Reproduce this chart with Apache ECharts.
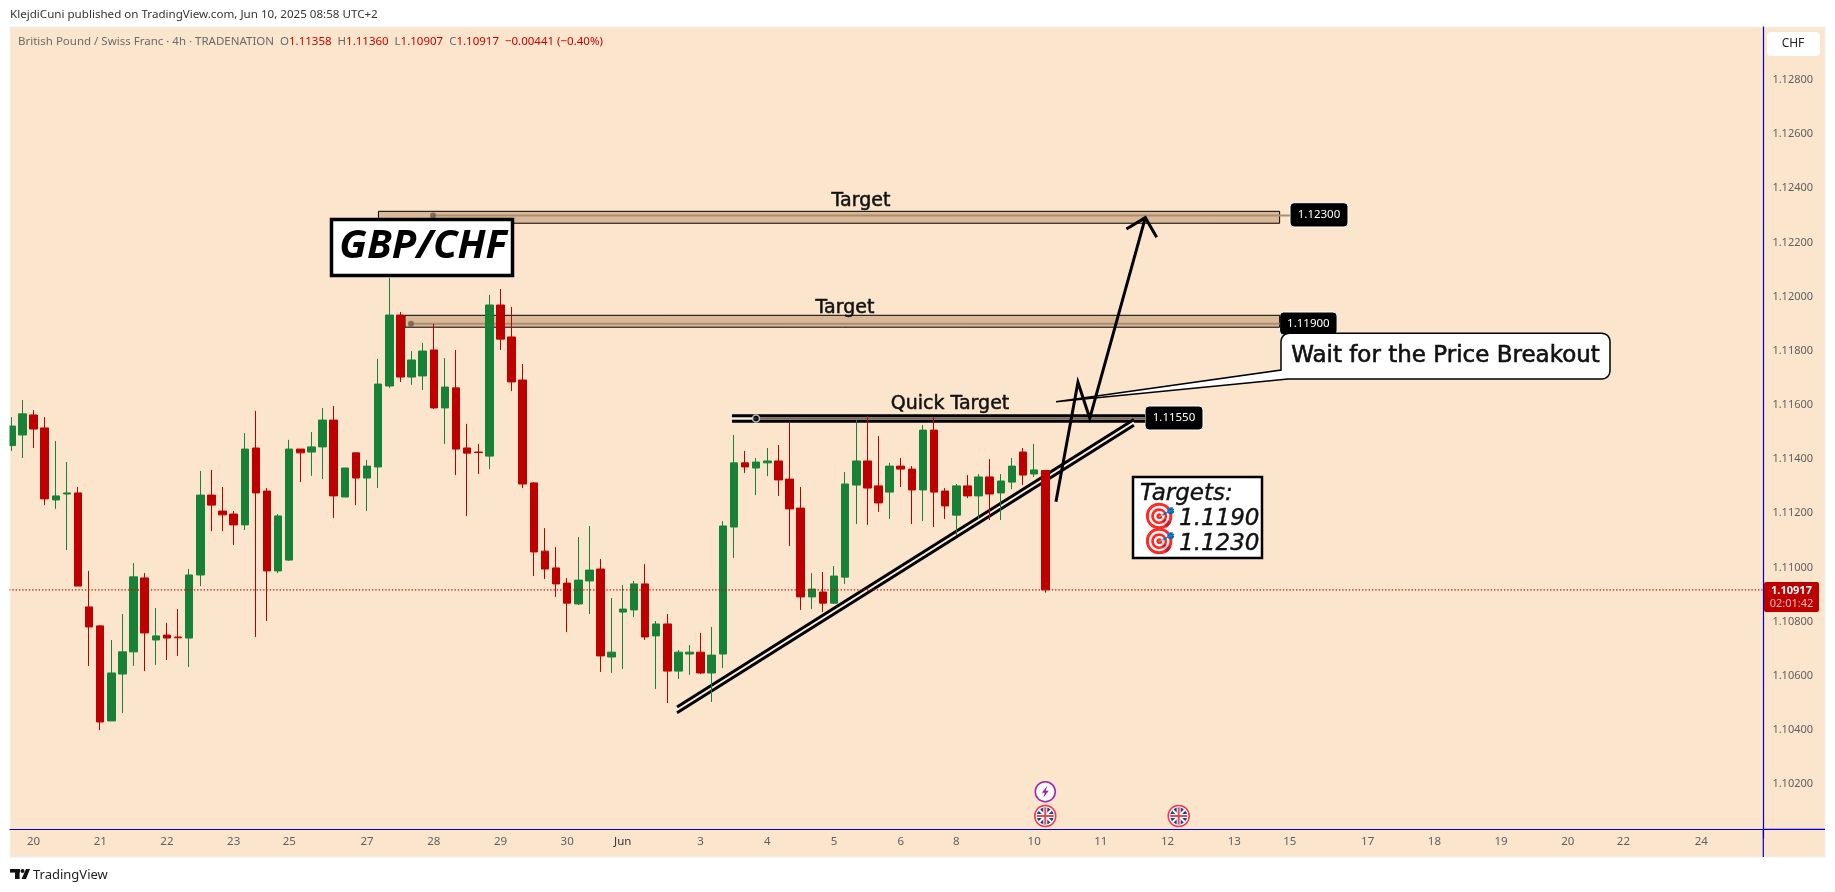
<!DOCTYPE html>
<html><head><meta charset="utf-8"><style>html,body{margin:0;padding:0;background:#fff}#c{width:1835px;height:892px}</style>
<script src="https://cdn.jsdelivr.net/npm/echarts@6/dist/echarts.min.js"></script></head>
<body><div id="c"></div><script>
const opens=[1.11450,1.11489,1.11563,1.11515,1.11249,1.11271,1.11275,1.10854,1.10784,1.10433,1.10606,1.10688,1.10961,1.10732,1.10750,1.10743,1.10739,1.10972,1.11267,1.11208,1.11197,1.11157,1.11441,1.11282,1.10987,1.11027,1.11437,1.11426,1.11445,1.11544,1.11260,1.11423,1.11330,1.11371,1.11670,1.11932,1.11703,1.11707,1.11803,1.11589,1.11663,1.11441,1.11426,1.11411,1.11969,1.11851,1.11692,1.11312,1.11060,1.10998,1.10942,1.10865,1.10950,1.10994,1.10669,1.10835,1.10843,1.10939,1.10747,1.10791,1.10617,1.10680,1.10687,1.10610,1.10680,1.11149,1.11386,1.11367,1.11386,1.11393,1.11326,1.11219,1.10891,1.10909,1.10868,1.10964,1.11304,1.11393,1.11301,1.11278,1.11374,1.11363,1.11286,1.11507,1.11282,1.11193,1.11301,1.11264,1.11334,1.11275,1.11315,1.11426,1.11345,1.11358];
const closes=[1.11522,1.11567,1.11511,1.11253,1.11264,1.11275,1.10931,1.10780,1.10429,1.10610,1.10688,1.10965,1.10758,1.10747,1.10739,1.10740,1.10972,1.11267,1.11230,1.11194,1.11157,1.11437,1.11275,1.10987,1.11190,1.11437,1.11423,1.11445,1.11544,1.11264,1.11367,1.11330,1.11374,1.11677,1.11932,1.11703,1.11766,1.11799,1.11589,1.11666,1.11437,1.11422,1.11424,1.11969,1.11843,1.11685,1.11308,1.11057,1.10994,1.10939,1.10868,1.10953,1.10990,1.10673,1.10687,1.10846,1.10939,1.10743,1.10791,1.10617,1.10687,1.10687,1.10610,1.10676,1.11153,1.11386,1.11371,1.11389,1.11393,1.11323,1.11216,1.10891,1.10920,1.10868,1.10968,1.11308,1.11393,1.11293,1.11238,1.11374,1.11363,1.11286,1.11507,1.11278,1.11227,1.11301,1.11264,1.11334,1.11271,1.11319,1.11374,1.11341,1.11360,1.10917];
const lows=[1.11430,1.11404,1.11441,1.11230,1.11216,1.11064,1.10931,1.10636,1.10399,1.10433,1.10462,1.10636,1.10617,1.10640,1.10658,1.10673,1.10632,1.10931,1.11134,1.11134,1.11083,1.11138,1.10743,1.10802,1.10979,1.11024,1.11315,1.11338,1.11326,1.11182,1.11260,1.11230,1.11208,1.11293,1.11663,1.11685,1.11674,1.11655,1.11585,1.11456,1.11341,1.11190,1.11345,1.11363,1.11803,1.11651,1.11293,1.10968,1.10957,1.10891,1.10761,1.10861,1.10828,1.10614,1.10610,1.10625,1.10817,1.10732,1.10551,1.10499,1.10588,1.10603,1.10606,1.10503,1.10628,1.11035,1.11349,1.11267,1.11337,1.11264,1.11079,1.10843,1.10846,1.10835,1.10865,1.10939,1.11160,1.11157,1.11205,1.11179,1.11297,1.11160,1.11171,1.11149,1.11179,1.11120,1.11256,1.11179,1.11175,1.11175,1.11289,1.11304,1.11334,1.10907];
const highs=[1.11555,1.11618,1.11581,1.11555,1.11467,1.11389,1.11297,1.10987,1.10787,1.10732,1.10828,1.11016,1.10979,1.10850,1.10795,1.10846,1.10994,1.11356,1.11360,1.11297,1.11208,1.11496,1.11578,1.11293,1.11197,1.11471,1.11437,1.11500,1.11589,1.11596,1.11367,1.11423,1.11397,1.11770,1.12069,1.11943,1.11799,1.11829,1.11899,1.11773,1.11803,1.11530,1.11456,1.12006,1.12028,1.11962,1.11751,1.11315,1.11145,1.11075,1.10961,1.11112,1.11153,1.11031,1.10887,1.10935,1.10950,1.11012,1.10802,1.10828,1.10695,1.10713,1.10758,1.10780,1.11171,1.11489,1.11430,1.11404,1.11441,1.11452,1.11537,1.11297,1.10979,1.10983,1.11005,1.11352,1.11544,1.11559,1.11485,1.11386,1.11404,1.11374,1.11526,1.11555,1.11293,1.11308,1.11341,1.11345,1.11400,1.11345,1.11404,1.11441,1.11456,1.11360];
const tickLabels=['20','21','22','23','25','27','28','29','30','Jun','3','4','5','6','8','10','11','12','13','15','17','18','19','20','22','24'];
const tickSlots=[2,8,14,20,25,32,38,44,50,55,62,68,74,80,85,92,98,104,110,115,122,128,134,140,145,152];
const slotCount=158;
const lastPrice=1.10917;
const priceTicks={min:1.10,max:1.13,step:0.002};
const targetUpper=[[33.02,1.12315],[114.08,1.12271]];
const targetLower=[[35.41,1.11931],[114.08,1.11887]];
const upperMid=[[37.93,1.123],[115.0,1.123]];
const lowerMid=[[35.95,1.119],[114.08,1.119]];
const quickTop=[[64.82,1.1156],[101.97,1.1156]];
const quickBottom=[[64.82,1.1154],[101.97,1.1154]];
const quickMidLeft=[[64.82,1.1155],[66.98,1.1155]];
const quickMid=[[66.98,1.1155],[101.97,1.1155]];
const trendUpper=[[59.88,1.104844],[100.97,1.115462]];
const trendMiddle=[[59.88,1.104738],[100.97,1.115356]];
const trendLower=[[59.88,1.104633],[100.97,1.115251]];
const arrowPath=[[93.96,1.112426],[95.94,1.116836],[97.0,1.115506],[102.0,1.122915]];
const arrowHead=[[100.3,1.122497],[102.0,1.122915],[103.02,1.122191]];
const anchorDots=[[37.93,1.123],[35.95,1.119]];
const quickDot=[[66.98,1.1155]];
const flagEvents=[[93,1.100818],[105,1.100818]];
const boltEvents=[[93,1.101716]];

const RED='#bd0000',GREEN='#178237',BG='#fce5cd',BLUE='#0000d6';
const categories=Array.from({length:slotCount},(_,i)=>{const k=tickSlots.indexOf(i);return k<0?'':tickLabels[k];});
const candles=opens.map((o,i)=>[o,closes[i],lows[i],highs[i]]);
const SANS='"DejaVu Sans"';
const AX='"Noto Sans"';
const gridLeft=5.74,bandW=11.118;
const lineS=(data,color,width,z,extra)=>Object.assign({type:'line',xAxisIndex:1,yAxisIndex:0,data,showSymbol:false,symbol:'none',silent:true,animation:false,z,lineStyle:{color,width,cap:'butt',join:'miter'}},extra||{});
const band=(rect)=>({type:'line',xAxisIndex:1,yAxisIndex:0,data:[],silent:true,animation:false,z:1,markArea:{silent:true,animation:false,itemStyle:{color:'#d9b998',borderColor:'#000',borderWidth:1},data:[[{xAxis:rect[0][0],yAxis:rect[0][1]},{xAxis:rect[1][0],yAxis:rect[1][1]}]]}});
const txt=(x,y,text,font,fill,align,z)=>({type:'text',x,y,z:z||6,silent:true,style:{text,font,fill,align:align||'left',verticalAlign:'middle'}});
const heavy=(x,y,text,font,fill,align,w)=>{const t=txt(x,y,text,font,fill,align);t.style.stroke=fill;t.style.lineWidth=w||0.5;return t;};
const tag=(x,y,w,h,text,z)=>[{type:'rect',z,silent:true,shape:{x,y,width:w,height:h,r:4},style:{fill:'#000',stroke:'#fff',lineWidth:1}},
  {type:'text',z,z2:2,silent:true,x:x+w/2,y:y+h/2,style:{text,font:'11.5px '+AX,fill:'#fff',align:'center',verticalAlign:'middle'}}];
const arc=(cx,cy,r,a0,a1)=>[0,1,2,3,4].map(i=>{const a=(a0+(a1-a0)*i/4)*Math.PI/180;return [cx+r*Math.cos(a),cy+r*Math.sin(a)];});
const calloutOutline=[...arc(1289,341.3,8,180,270),...arc(1602,341.3,8,270,360),...arc(1602,371,8,0,90),[1288,379],[1056,401.7],[1281,370]];
function flagItem(p,api){const c=api.coord(p);const x=c[0],y=c[1],r=9.5;
  const seg=(dx,dy,col,w)=>({type:'line',shape:{x1:x-dx,y1:y-dy,x2:x+dx,y2:y+dy},style:{stroke:col,lineWidth:w}});
  return {type:'group',children:[
    {type:'circle',shape:{cx:x,cy:y,r:r+1},style:{fill:'#fff',stroke:'#f23645',lineWidth:1.5}},
    {type:'circle',shape:{cx:x,cy:y,r:r-1},style:{fill:'#1c3f94'}},
    seg(6,6,'#fff',2),seg(6,-6,'#fff',2),seg(8.5,0,'#fff',4),seg(0,8.5,'#fff',4),seg(8.5,0,'#e5484d',2),seg(0,8.5,'#e5484d',2)]};}
function boltItem(p,api){const c=api.coord(p);const x=c[0],y=c[1];
  return {type:'group',children:[
    {type:'circle',shape:{cx:x,cy:y,r:10},style:{fill:'#fff',stroke:'#9c27b0',lineWidth:1.5}},
    {type:'polygon',shape:{points:[[x+2,y-6],[x-3.5,y+1],[x-0.5,y+1],[x-2,y+6],[x+3.5,y-1],[x+0.5,y-1]]},style:{fill:'#9c27b0'}}]};}
const option={
  animation:false,backgroundColor:'#fff',
  grid:{left:gridLeft,width:bandW*slotCount,top:25.85,height:812.31,containLabel:false},
  xAxis:[
    {type:'category',data:categories,position:'bottom',offset:-9,boundaryGap:true,
      axisLine:{show:true,onZero:false,lineStyle:{color:BLUE,width:1.2}},axisTick:{show:false},splitLine:{show:false},
      axisLabel:{interval:0,margin:7,fontSize:11.5,fontFamily:AX,color:'#5f5f5f',hideOverlap:false,
        formatter:v=>v==='Jun'?'{b|Jun}':v,rich:{b:{fontSize:11.5,fontFamily:AX,color:'#333'}}}},
    {type:'value',min:-0.5,max:slotCount-0.5,show:false,splitLine:{show:false}}],
  yAxis:[{type:'value',position:'right',offset:1,min:priceTicks.min,max:priceTicks.max,interval:priceTicks.step,
    axisLine:{show:true,onZero:false,lineStyle:{color:BLUE,width:1.2}},axisTick:{show:false},splitLine:{show:false},
    axisLabel:{margin:9,fontSize:11,fontFamily:AX,color:'#5f5f5f',formatter:v=>(v<1.101||v>1.129)?'':v.toFixed(5)}}],
  series:[
    band(targetUpper),band(targetLower),
    lineS(upperMid,'#ab8d70',2,1),lineS(lowerMid,'#ab8d70',2,1),
    lineS(quickMidLeft,'#f6efe8',2,1),lineS(quickMid,'#7a675b',2,1),
    lineS(quickTop,'#000',3,1),lineS(quickBottom,'#000',3,1),
    lineS(trendMiddle,'#f7ede2',3,1),lineS(trendUpper,'#000',3,1),lineS(trendLower,'#000',3,1),
    lineS(arrowPath,'#000',3,1.5),lineS(arrowHead,'#000',3,1.5),
    {type:'scatter',xAxisIndex:1,yAxisIndex:0,data:anchorDots,symbolSize:6,silent:true,animation:false,z:1.5,itemStyle:{color:'#6e5a48'}},
    {type:'scatter',xAxisIndex:1,yAxisIndex:0,data:quickDot,symbolSize:7,silent:true,animation:false,z:1.5,itemStyle:{color:'#000',borderColor:'#dfe3e8',borderWidth:1.5}},
    {type:'candlestick',xAxisIndex:0,yAxisIndex:0,data:candles,barWidth:8,z:2,silent:true,animation:false,
      itemStyle:{color:GREEN,color0:RED,borderColor:GREEN,borderColor0:RED,borderWidth:1}},
    lineS([[-0.5,lastPrice],[slotCount-0.5,lastPrice]],'#d40000',1.3,3,{lineStyle:{color:'#d40000',width:1.3,type:[1.3,2]}}),
    {type:'custom',xAxisIndex:1,yAxisIndex:0,data:flagEvents,z:3,silent:true,animation:false,encode:{x:0,y:1},renderItem:(ps,api)=>flagItem([api.value(0),api.value(1)],api)},
    {type:'custom',xAxisIndex:1,yAxisIndex:0,data:boltEvents,z:3,silent:true,animation:false,encode:{x:0,y:1},renderItem:(ps,api)=>boltItem([api.value(0),api.value(1)],api)}
  ],
  graphic:{elements:[
    {type:'rect',z:-5,silent:true,shape:{x:10,y:27,width:1815,height:830},style:{fill:BG,stroke:'#eeeeee',lineWidth:1}},
    {type:'rect',z:50,silent:true,shape:{x:0,y:27,width:9.5,height:830},style:{fill:'#fff'}},
    {type:'rect',z:50,silent:true,shape:{x:1755,y:20,width:20,height:6.5},style:{fill:'#fff'}},
    {type:'rect',z:4,silent:true,shape:{x:1762.7,y:829,width:1.2,height:28},style:{fill:BLUE}},
    {type:'rect',z:4,silent:true,shape:{x:1763,y:828.7,width:62,height:1.2},style:{fill:BLUE}},
    {type:'rect',z:4,silent:true,shape:{x:1767,y:32,width:53,height:24,r:4},style:{fill:'#fff'}},
    txt(1793,44,'CHF','12px '+AX,'#222','center'),
    txt(10,15,'KlejdiCuni published on TradingView.com, Jun 10, 2025 08:58 UTC+2','11.6px '+AX,'#333'),
    {type:'text',x:18,y:41.7,z:6,silent:true,style:{verticalAlign:'middle',font:'11.5px '+AX,
      text:'{g|British Pound / Swiss Franc · 4h · TRADENATION  O}{r|1.11358}{g|  H}{r|1.11360}{g|  L}{r|1.10907}{g|  C}{r|1.10917}{r|  −0.00441 (−0.40%)}',
      rich:{g:{fill:'#6a6a6a',font:'11.5px '+AX},r:{fill:'#cc0000',font:'11.5px '+AX}}}},
    {type:'rect',z:4,silent:true,shape:{x:1764,y:582,width:55,height:30,r:2},style:{fill:RED}},
    txt(1791.5,591,'1.10917','bold 11px '+AX,'#fff','center'),
    txt(1791.5,604,'02:01:42','11px '+AX,'#f6b8b8','center'),
    ...tag(1290,202.7,58,24.3,'1.12300',0.4),
    ...tag(1279.6,312,57.5,23,'1.11900',0.4),
    ...tag(1145,406,58,24,'1.11550',0.4),
    {type:'polygon',z:0.5,silent:true,shape:{points:calloutOutline},style:{fill:'#fff',stroke:'#000',lineWidth:1.5}},
    heavy(1445.5,356.5,'Wait for the Price Breakout','23px '+SANS,'#111','center',0.6),
    heavy(861,201,'Target','19px '+SANS,'#111','center',0.5),
    heavy(845,308.5,'Target','19px '+SANS,'#111','center',0.5),
    heavy(950,404,'Quick Target','19px '+SANS,'#111','center',0.5),
    {type:'rect',z:5,silent:true,shape:{x:331.5,y:219.5,width:181,height:56},style:{fill:'#fff',stroke:'#000',lineWidth:3.5}},
    txt(423,247,'GBP/CHF','italic bold 40px "Open Sans"','#000','center'),
    {type:'rect',z:5,silent:true,shape:{x:1133,y:477,width:129,height:81},style:{fill:'#fff',stroke:'#000',lineWidth:2.5}},
    heavy(1140,494.5,'Targets:','italic 23px '+SANS,'#111','left',0.4),
    txt(1143,518.5,'🎯','26px '+SANS,'#111'),
    txt(1143,543.5,'🎯','26px '+SANS,'#111'),
    heavy(1179,519,'1.1190','italic 23px '+SANS,'#111','left',0.4),
    heavy(1179,544,'1.1230','italic 23px '+SANS,'#111','left',0.4),
    {type:'rect',z:6,silent:true,shape:{x:10,y:869,width:10,height:3.6},style:{fill:'#111'}},
    {type:'rect',z:6,silent:true,shape:{x:15,y:869,width:4.6,height:10},style:{fill:'#111'}},
    {type:'circle',z:6,silent:true,shape:{cx:22.5,cy:871,r:2},style:{fill:'#111'}},
    {type:'polygon',z:6,silent:true,shape:{points:[[26,869],[30,869],[26,879],[21.5,879]]},style:{fill:'#111'}},
    txt(33,875,'TradingView','13px '+AX,'#222')
  ]}
};
echarts.init(document.getElementById('c')).setOption(option);
</script></body></html>
